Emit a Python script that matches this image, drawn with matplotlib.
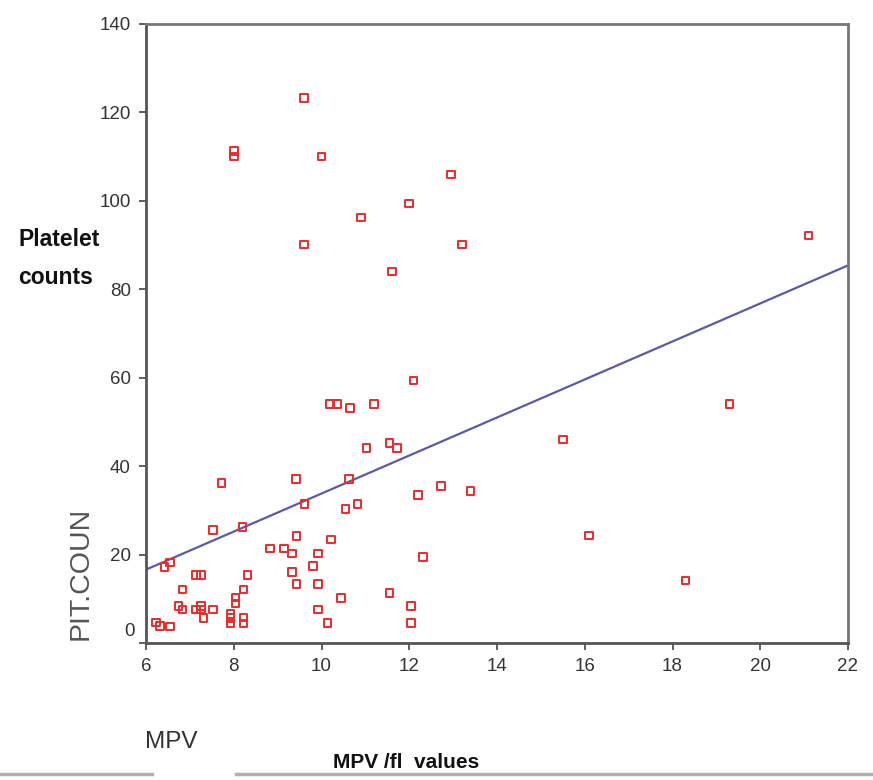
import matplotlib
matplotlib.use("Agg")
import matplotlib.pyplot as plt

# ---- data ----
mpv = [9.6, 8.0, 8.0, 10.0, 12.95, 12.0, 10.9, 9.6, 13.2, 11.6, 21.1,
       12.1, 10.2, 10.35, 10.65, 11.2, 19.3, 15.5, 11.55, 11.72, 11.03,
       7.72, 9.42, 10.63, 12.72, 13.4, 12.2, 10.82, 10.55, 9.61,
       8.2, 7.53, 9.43, 16.1, 10.21, 8.82, 9.15, 9.33, 9.92, 12.31,
       6.55, 6.42, 9.8, 9.33, 7.14, 7.25, 8.31, 18.3, 9.43, 9.92,
       6.83, 8.22, 11.55, 10.44, 8.04, 8.04, 6.74, 6.83, 7.14, 7.25,
       7.25, 7.53, 9.92, 12.04, 7.31, 7.93, 7.93, 7.93, 8.22, 8.22,
       6.23, 6.32, 6.55, 10.14, 12.04]
plt_count = [123.2, 111.3, 110.0, 110.0, 106.0, 99.4, 96.2, 90.1, 90.1, 84.0, 92.2,
             59.4, 54.1, 54.1, 53.2, 54.1, 54.1, 46.0, 45.2, 44.1, 44.1,
             36.2, 37.1, 37.1, 35.5, 34.4, 33.5, 31.5, 30.3, 31.5,
             26.3, 25.5, 24.2, 24.3, 23.4, 21.4, 21.4, 20.2, 20.2, 19.4,
             18.2, 17.2, 17.4, 16.1, 15.4, 15.4, 15.4, 14.1, 13.3, 13.3,
             12.1, 12.1, 11.3, 10.2, 10.3, 8.9, 8.4, 7.6, 7.6, 8.4,
             7.6, 7.6, 7.6, 8.4, 5.6, 6.5, 5.6, 4.4, 5.8, 4.4,
             4.6, 3.9, 3.7, 4.5, 4.5]
fit_x = [6, 22]
fit_y = [16.6, 85.4]
x_ticks = [6, 8, 10, 12, 14, 16, 18, 20, 22]
y_ticks = [0, 20, 40, 60, 80, 100, 120, 140]
y_labels = ['', '20', '40', '60', '80', '100', '120', '140']

fig = plt.figure(figsize=(8.73, 7.8), dpi=100)
ax = fig.add_axes([146/873, 1-643/780, (848-146)/873, (643-24)/780])

ax.plot(fit_x, fit_y, color='#5a5aa8', lw=1.6, zorder=2)
ax.scatter(mpv, plt_count, marker='s', s=30, facecolors='none',
           edgecolors='#ee2a2a', linewidths=1.4, zorder=3)

ax.set_xlim(6, 22)
ax.set_ylim(0.5, 140)
ax.set_xticks(x_ticks)
ax.set_yticks(y_ticks)
ax.set_yticklabels(y_labels)
ax.tick_params(direction='out', length=5, width=1.2, color='#444',
               labelsize=13.5, labelcolor='#333', pad=6)
for lab in ax.get_xticklabels() + ax.get_yticklabels():
    lab.set_family('Liberation Sans')
# the zero label sits slightly above the axis in the original
ax.annotate('0', xy=(0, 0), xycoords=('axes fraction', 'data'),
            xytext=(-11, 11), textcoords='offset pixels', ha='right',
            va='center', fontsize=13.5, color='#333', family='Liberation Sans')
for s in ['left', 'bottom']:
    ax.spines[s].set_color('#555')
    ax.spines[s].set_linewidth(2.0)
for s in ['top', 'right']:
    ax.spines[s].set_color('#777')
    ax.spines[s].set_linewidth(2.0)

fig.text(18/873, 1-240/780, 'Platelet', fontsize=16.5, fontweight='bold',
         family='Liberation Sans', va='center', ha='left', color='#111')
fig.text(18/873, 1-277/780, 'counts', fontsize=16.5, fontweight='bold',
         family='Liberation Sans', va='center', ha='left', color='#111')
fig.text(81/873, 1-573/780, 'PIT.COUN', fontsize=20.5, rotation=90,
         family='Liberation Sans', va='center', ha='center', color='#555')
fig.text(145/873, 1-742/780, 'MPV', fontsize=17.5, family='Liberation Sans',
         va='center', ha='left', color='#333')
fig.text(333/873, 1-762/780, 'MPV /fl  values', fontsize=15, fontweight='bold',
         family='Liberation Sans', va='center', ha='left', color='#111')

fig.add_artist(plt.Line2D([0, 152/873], [1-774/780]*2, color='#b0b0b0', lw=2.5))
fig.add_artist(plt.Line2D([236/873, 1], [1-774/780]*2, color='#b0b0b0', lw=2.5))

fig.savefig('out.png', dpi=100)
